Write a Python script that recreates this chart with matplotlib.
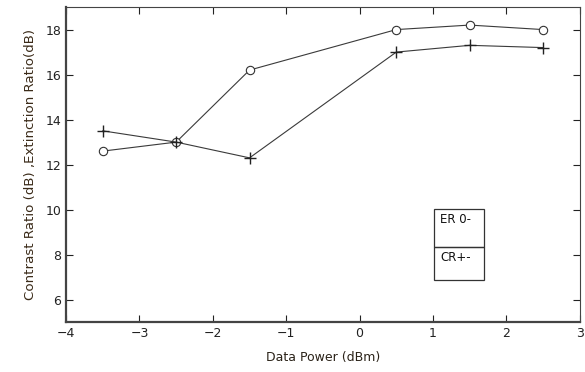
import matplotlib
matplotlib.use("Agg")
import matplotlib.pyplot as plt
from matplotlib.patches import Rectangle

# data
power = [-3.5, -2.5, -1.5, 0.5, 1.5, 2.5]
er_vals = [12.6, 13.0, 16.2, 18.0, 18.2, 18.0]   # circles
cr_vals = [13.5, 13.0, 12.3, 17.0, 17.3, 17.2]   # plus
xticks = [-4, -3, -2, -1, 0, 1, 2, 3]
yticks = [6, 8, 10, 12, 14, 16, 18]

plt.rcParams['font.family'] = ['DejaVu Sans']

fig = plt.figure(figsize=(5.85, 3.72), dpi=100)
ax = fig.add_axes([0.113, 0.134, 0.878, 0.847])

ax.plot(power, er_vals, '-', color='#3a3a3a', lw=0.8, marker='o', ms=6,
        mfc='white', mec='#333333', mew=0.8)
ax.plot(power, cr_vals, '-', color='#3a3a3a', lw=0.8, marker='+', ms=8,
        mec='#222222', mew=1.0)

ax.set_xlim(-4, 3)
ax.set_ylim(5, 19)
ax.set_xticks(xticks)
ax.set_yticks(yticks)
ax.tick_params(direction='in', top=True, right=True, labelsize=9,
               length=5, width=0.8, colors='#222222')
for s in ax.spines.values():
    s.set_color('#444444')
    s.set_linewidth(0.8)
ax.spines['left'].set_linewidth(1.6)
ax.spines['bottom'].set_linewidth(1.6)

ax.set_xlabel('Data Power (dBm)', fontsize=9, color='#2a2218', labelpad=8)
ax.set_ylabel('Contrast Ratio (dB) ,Extinction Ratio(dB)', fontsize=9.6,
              color='#3a2a18', labelpad=6)

# legend box drawn by hand (two stacked cells)
bx, bw = 0.7165, 0.0975
ax.add_patch(Rectangle((bx, 0.134), bw, 0.105, transform=ax.transAxes,
                       fill=False, ec='#333333', lw=0.9))
ax.add_patch(Rectangle((bx, 0.239), bw, 0.121, transform=ax.transAxes,
                       fill=False, ec='#333333', lw=0.9))
ax.text(bx + 0.012, 0.347, 'ER 0-', transform=ax.transAxes, fontsize=8.5,
        va='top', color='#111111')
ax.text(bx + 0.012, 0.226, 'CR+-', transform=ax.transAxes, fontsize=8.5,
        va='top', color='#111111')

fig.savefig('out.png', dpi=100)
